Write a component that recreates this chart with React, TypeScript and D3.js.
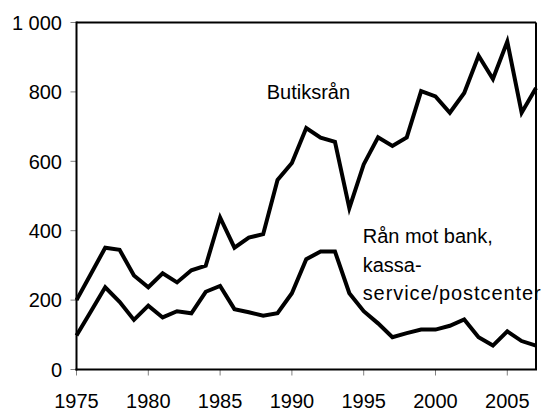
import React from "react";
import * as d3 from "d3";

const years: number[] = d3.range(1975, 2008);
const butiksran: number[] = [
  200, 275, 351, 345, 271, 237, 277, 251, 286, 299, 438, 351, 380, 390, 546, 595,
  696, 668, 656, 465, 591, 669, 644, 669, 802, 787, 740, 797, 904, 837, 945, 740, 811,
];
const bankran: number[] = [
  98, 167, 237, 195, 143, 184, 150, 168, 162, 224, 241, 174, 165, 155, 162, 220,
  318, 340, 340, 220, 168, 133, 93, 105, 115, 115, 126, 144, 93, 69, 110, 82, 69,
];
const yTicks: number[] = [0, 200, 400, 600, 800, 1000];
const xTicks: number[] = [1975, 1980, 1985, 1990, 1995, 2000, 2005];
const labelButik = "Butiksrån";
const labelBank: string[] = ["Rån mot bank,", "kassa-", "service/postcenter"];

const W = 544;
const H = 410;
const L = 76.5;
const R = 536;
const T = 22.5;
const B = 369.5;
const FONT = "Arial, 'Liberation Sans', sans-serif";

export default function App() {
  const x = d3.scaleLinear().domain([1975, 2007]).range([L, R]);
  const y = d3.scaleLinear().domain([0, 1000]).range([B, T]);
  const fmt = (v: number) => d3.format(",")(v).replace(",", " ");
  const line = d3
    .line<number>()
    .x((_, i) => x(years[i]))
    .y((d) => y(d));

  return (
    <svg
      width={W}
      height={H}
      style={{ position: "absolute", left: 0, top: 0, background: "#fff" }}
      fontFamily={FONT}
    >
      {/* frame top and right */}
      <line x1={L} x2={R} y1={T} y2={T} stroke="#000" strokeWidth={2} />
      <line x1={R} x2={R} y1={T} y2={B} stroke="#000" strokeWidth={2} />
      {/* y ticks */}
      {yTicks.map((t) => (
        <g key={"y" + t}>
          <line x1={L - 6} x2={L} y1={y(t)} y2={y(t)} stroke="#808080" strokeWidth={1} />
          <text x={62} y={y(t)} dy="0.36em" textAnchor="end" fontSize={20} fill="#000">
            {fmt(t)}
          </text>
        </g>
      ))}
      {/* x ticks */}
      {xTicks.map((t) => (
        <g key={"x" + t}>
          <line x1={x(t)} x2={x(t)} y1={B} y2={B + 6} stroke="#808080" strokeWidth={1} />
          <text x={x(t)} y={407.5} textAnchor="middle" fontSize={20} fill="#000">
            {t}
          </text>
        </g>
      ))}
      {/* series */}
      <path d={line(butiksran) || ""} fill="none" stroke="#000" strokeWidth={4} />
      <path d={line(bankran) || ""} fill="none" stroke="#000" strokeWidth={4} />
      {/* axes */}
      <line x1={L} x2={L} y1={T - 1} y2={B + 1} stroke="#000" strokeWidth={2} />
      <line x1={L - 1} x2={R + 1} y1={B} y2={B} stroke="#000" strokeWidth={2} />
      {/* labels */}
      <text x={266.7} y={99.3} fontSize={20} fill="#000">
        {labelButik}
      </text>
      {labelBank.map((s, i) => (
        <text
          key={s}
          x={362.7}
          y={242.7 + i * 28.8}
          fontSize={20}
          fill="#000"
          textLength={i === 2 ? 178 : undefined}
          lengthAdjust="spacing"
        >
          {s}
        </text>
      ))}
    </svg>
  );
}
